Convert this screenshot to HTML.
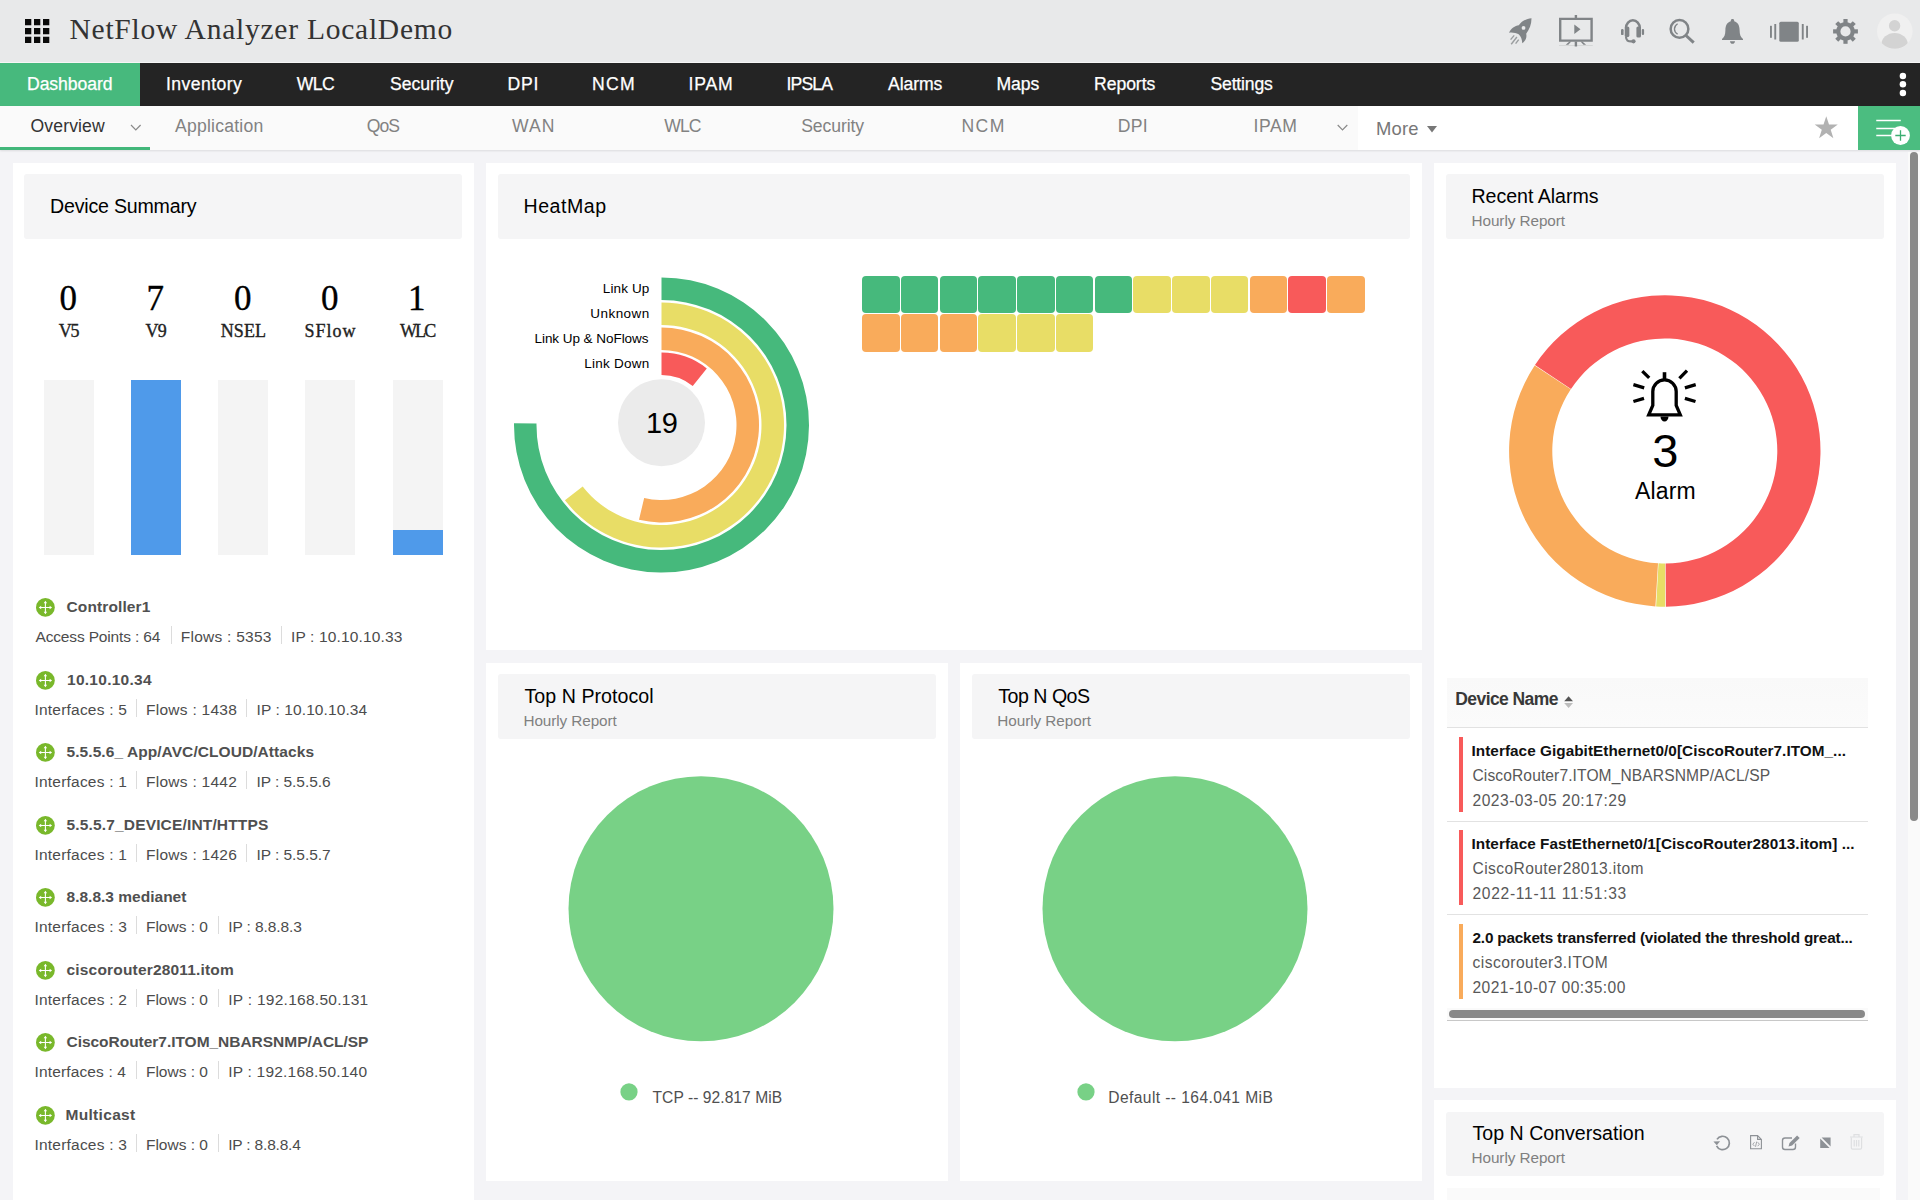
<!DOCTYPE html>
<html lang="en">
<head>
<meta charset="utf-8">
<title>NetFlow Analyzer LocalDemo</title>
<style>
*{box-sizing:border-box;margin:0;padding:0}
html,body{width:1920px;height:1200px;overflow:hidden}
body{position:relative;background:#f4f4f7;font-family:"Liberation Sans",sans-serif}
ul{list-style:none;left:0;top:0}
.ab,.t,.card,.hd,.vs,#top,#mainnav,#subnav,main,section,ul,li i{position:absolute}
.t{white-space:nowrap;line-height:1;display:block}
.ttl{font-family:"Liberation Serif", serif;font-size:29.5px;font-weight:400;color:#333}
.nav{font-family:"Liberation Sans", sans-serif;font-size:17.6px;font-weight:400;color:#fff}
.sub{font-family:"Liberation Sans", sans-serif;font-size:17.6px;font-weight:400;color:#828282}
.suba{font-family:"Liberation Sans", sans-serif;font-size:17.6px;font-weight:400;color:#333}
.more{font-family:"Liberation Sans", sans-serif;font-size:18.4px;font-weight:400;color:#777}
.h{font-family:"Liberation Sans", sans-serif;font-size:19.6px;font-weight:400;color:#000}
.hs{font-family:"Liberation Sans", sans-serif;font-size:15.3px;font-weight:400;color:#808080}
.num{font-family:"Liberation Serif", serif;font-size:35px;font-weight:400;color:#000}
.lab{font-family:"Liberation Serif", serif;font-size:18px;font-weight:400;color:#222}
.dn{font-family:"Liberation Sans", sans-serif;font-size:15.5px;font-weight:700;color:#505050}
.dd{font-family:"Liberation Sans", sans-serif;font-size:15.5px;font-weight:400;color:#4c4c4c}
.rl{font-family:"Liberation Sans", sans-serif;font-size:13.5px;font-weight:400;color:#000}
.c19{font-family:"Liberation Sans", sans-serif;font-size:29px;font-weight:400;color:#000}
.c3{font-family:"Liberation Sans", sans-serif;font-size:47px;font-weight:400;color:#000}
.alm{font-family:"Liberation Sans", sans-serif;font-size:23px;font-weight:400;color:#000}
.th{font-family:"Liberation Sans", sans-serif;font-size:17.5px;font-weight:700;color:#383838}
.at{font-family:"Liberation Sans", sans-serif;font-size:15.3px;font-weight:700;color:#111}
.ad{font-family:"Liberation Sans", sans-serif;font-size:15.6px;font-weight:400;color:#585858}
.lg{font-family:"Liberation Sans", sans-serif;font-size:15.6px;font-weight:400;color:#505050}
#top{left:0;top:0;width:1920px;height:63px;background:#e8e9ea;border-bottom:1px solid #f6f6f6}
#mainnav{left:0;top:63px;width:1920px;height:43px;background:#242424}
#mainnav .act{position:absolute;left:0;top:0;width:140px;height:43px;background:#47b97d}
#subnav{left:0;top:106px;width:1920px;height:44px;background:#fafafa;box-shadow:0 1px 2px rgba(0,0,0,.10)}
#subnav .wh{position:absolute;left:1358px;top:0;width:500px;height:44px;background:#fff}
#subnav .gb{position:absolute;left:1858px;top:0;width:62px;height:44px;background:#4bbd80}
#subnav .ul{position:absolute;left:0;top:41px;width:150px;height:3px;background:#42b77a}
main{left:0;top:0;width:1920px;height:1200px}
.card{background:#fff}
.hd{background:#f5f5f6;border-radius:3px}
.vs{width:1px;height:18px;background:#dcdcdc}
.bar{position:absolute;top:380px;width:50px;height:174.5px;background:#f4f4f4}
.bar b{position:absolute;left:0;bottom:0;width:50px;background:#4f9aea}
#cells i{position:absolute;width:37.5px;height:37.25px;border-radius:4px}
.aline{position:absolute;left:1447px;width:421px;height:1px;background:#e2e2e2}
.abar{position:absolute;left:1459.25px;width:3.75px}
.num,.lab{-webkit-text-stroke:.35px currentColor}
.nav{-webkit-text-stroke:.25px currentColor}
</style>
</head>
<body>
<svg width="0" height="0" style="position:absolute">
<defs>
<g id="rt"><circle cx="10.4" cy="10.45" r="9.4" fill="#79b82b"/><path d="M10.4 5V15.900M5 10.450H15.800" stroke="#fff" stroke-width="1.100" fill="none"/><path d="M10.4 3.700l1.700 2.500h-3.400zM10.4 17.200l1.700-2.500h-3.400zM3.700 10.450l2.500-1.700v3.400zM17.100 10.450l-2.500-1.700v3.400z" fill="#fff"/></g>
</defs>
</svg>

<header id="top">
<svg class="ab" style="left:24px;top:18px" width="27" height="27" viewBox="24 18 27 27" fill="#0a0a0a"><path d="M25 19h6.3v6.3H25zM34 19h6.3v6.3H34zM43 19h6.3v6.3H43zM25 27.9h6.3v6.3H25zM34 27.9h6.3v6.3H34zM43 27.9h6.3v6.3H43zM25 36.8h6.3v6.3H25zM34 36.8h6.3v6.3H34zM43 36.8h6.3v6.3H43z"/></svg>
<h1><span class="t ttl" style="left:69.5px;top:14.75px;letter-spacing:0.76px">NetFlow Analyzer LocalDemo</span></h1>
<svg class="ab" style="left:1500px;top:8px" width="420" height="48" viewBox="1500 8 420 48">
<g fill="#808487" stroke="none">
<!-- rocket -->
<path d="M1531.500 18.200C1526.500 18.600 1521.500 21 1518.800 25.200C1515 25.500 1511 28.500 1509 32.700C1512.500 32.200 1516 33 1518.600 34.300C1521 36.200 1522 39.200 1522.300 43.300C1525.500 41 1527.100 37.500 1526.200 33.800C1529.500 29.500 1531.600 24 1531.500 18.200z"/>
<circle cx="1523.500" cy="27.900" r="1.900" fill="#e8e9ea"/>
<path d="M1514.200 35.400l-3.600 4.200M1516.900 37l-5.700 7.300M1518.700 39.600l-3.100 4" stroke="#808487" stroke-width="1.400" stroke-opacity=".75" fill="none"/>
<!-- presentation -->
<path d="M1560.200 18.900h31.400v21.700h-31.400z" fill="none" stroke="#808487" stroke-width="2.4"/>
<path d="M1574.700 14.900h2.400v3h-2.400zM1574.700 41.500h2.400v5h-2.400zM1574.300 24.600v9.300l6.200-4.650zM1569.500 41.500l-3.800 3.200h2.600l3-3.200zM1582.300 41.500l3.800 3.200h-2.600l-3-3.200z"/>
<path d="M1559 45.500h33.800" stroke="#808487" stroke-opacity=".18" stroke-width="1.200" fill="none"/>
<!-- headset -->
<path d="M1626 28a6.900 7.700 0 0 1 13.800 0" fill="none" stroke="#808487" stroke-width="2.500"/>
<rect x="1624.750" y="26.500" width="4.600" height="10.600" rx="1.600"/><rect x="1636.400" y="26.500" width="4.600" height="11" rx="1.600"/>
<rect x="1621" y="29" width="2.600" height="6.100" rx="1.200"/><rect x="1641.800" y="29" width="2.300" height="6.100" rx="1.100"/>
<path d="M1626 36.500C1626 40.500 1628 41.600 1632 41.400" fill="none" stroke="#808487" stroke-width="2.200"/>
<circle cx="1633.500" cy="41.300" r="2.100"/>
<!-- search -->
<circle cx="1679.500" cy="28.900" r="8.850" fill="none" stroke="#808487" stroke-width="2.500"/>
<path d="M1677.600 23.700C1673.400 26.500 1673.400 31.300 1677.600 34.100" fill="none" stroke="#808487" stroke-width="1.300"/>
<path d="M1686 35.500l7.700 7.200" stroke="#808487" stroke-width="3" fill="none"/>
<!-- bell -->
<path d="M1732.500 19.100c1 0 1.700.7 1.700 1.600v.5c3.600.9 5.400 4.400 5.400 8.800 0 4.700 1.200 7.300 3.400 9.100v.8h-21v-.8c2.200-1.800 3.400-4.400 3.400-9.100 0-4.400 1.800-7.900 5.400-8.800v-.5c0-.9.700-1.600 1.700-1.600zM1730 41.200h5c0 1.500-1.100 2.600-2.500 2.600s-2.500-1.100-2.500-2.600z"/>
<!-- carousel -->
<rect x="1779.300" y="21.700" width="19.500" height="20.100" rx="1.500"/>
<rect x="1774.300" y="24" width="1.900" height="15.500"/><rect x="1770" y="25.800" width="1.900" height="12"/>
<rect x="1801.800" y="24" width="1.900" height="15.500"/><rect x="1806.100" y="25.800" width="1.900" height="12"/>
<!-- gear -->
<g transform="translate(1845.500 31.400)">
<circle r="7.200" fill="none" stroke="#808487" stroke-width="4.200"/>
<g id="gt"><rect x="-2.100" y="-12.400" width="4.200" height="4.200"/><rect x="-2.100" y="8.200" width="4.200" height="4.200"/></g>
<use href="#gt" transform="rotate(45)"/><use href="#gt" transform="rotate(90)"/><use href="#gt" transform="rotate(135)"/>
</g>
</g>
<!-- avatar -->
<clipPath id="avc"><circle cx="1894.800" cy="31.200" r="17.600"/></clipPath>
<circle cx="1894.800" cy="31.200" r="17.800" fill="#f0f0f0"/>
<g clip-path="url(#avc)" fill="#d3d3d3"><circle cx="1894.600" cy="25.700" r="5.700"/><ellipse cx="1894.600" cy="44.500" rx="13.200" ry="11.500"/></g>
</svg>
</header>

<nav id="mainnav"><div class="act"></div>
<div class="ab" style="left:0;top:-63px"><span class="t nav" style="left:27px;top:76px;letter-spacing:-0.07px">Dashboard</span>
<span class="t nav" style="left:166px;top:76px;letter-spacing:0.43px">Inventory</span>
<span class="t nav" style="left:296.75px;top:76px;letter-spacing:-0.58px">WLC</span>
<span class="t nav" style="left:390px;top:76px">Security</span>
<span class="t nav" style="left:507.5px;top:76px;letter-spacing:0.77px">DPI</span>
<span class="t nav" style="left:592px;top:76px;letter-spacing:1.29px">NCM</span>
<span class="t nav" style="left:688.5px;top:76px;letter-spacing:0.81px">IPAM</span>
<span class="t nav" style="left:786.5px;top:76px;letter-spacing:-0.85px">IPSLA</span>
<span class="t nav" style="left:888px;top:76px;letter-spacing:-0.09px">Alarms</span>
<span class="t nav" style="left:996.5px;top:76px;letter-spacing:-0.08px">Maps</span>
<span class="t nav" style="left:1094px;top:76px;letter-spacing:-0.05px">Reports</span>
<span class="t nav" style="left:1210.5px;top:76px;letter-spacing:-0.18px">Settings</span></div>
<svg class="ab" style="left:1896px;top:8px" width="14" height="28" viewBox="1896 71 14 28" fill="#fff"><circle cx="1902.900" cy="75.900" r="3.250"/><circle cx="1902.900" cy="84.300" r="3.250"/><circle cx="1902.900" cy="92.900" r="3.250"/></svg>
</nav>
<nav id="subnav"><div class="wh"></div><div class="gb"></div><div class="ul"></div>
<div class="ab" style="left:0;top:-106px"><span class="t suba" style="left:30.5px;top:118px;letter-spacing:0.13px">Overview</span>
<span class="t sub" style="left:175px;top:118px;letter-spacing:0.22px">Application</span>
<span class="t sub" style="left:366.75px;top:118px;letter-spacing:-0.99px">QoS</span>
<span class="t sub" style="left:512px;top:118px;letter-spacing:1.02px">WAN</span>
<span class="t sub" style="left:664.25px;top:118px;letter-spacing:-0.95px">WLC</span>
<span class="t sub" style="left:801.25px;top:118px;letter-spacing:-0.11px">Security</span>
<span class="t sub" style="left:961.5px;top:118px;letter-spacing:1.41px">NCM</span>
<span class="t sub" style="left:1117.75px;top:118px;letter-spacing:0.27px">DPI</span>
<span class="t sub" style="left:1253.5px;top:118px;letter-spacing:0.56px">IPAM</span>
<span class="t more" style="left:1376px;top:119.5px;letter-spacing:0.19px">More</span></div>
<svg class="ab" style="left:0;top:0" width="1920" height="44" viewBox="0 106 1920 44">
<path d="M131 125l4.800 5 4.800-5M1337.700 125l4.800 5 4.800-5" fill="none" stroke="#8a8a8a" stroke-width="1.200"/>
<path d="M1427 126h10l-5 6.400z" fill="#777"/>
<path d="M1826.250 116.200l2.750 8.400 8.800 0-7.100 5.200 2.700 8.400-7.150-5.200-7.150 5.200 2.700-8.400-7.100-5.200 8.800 0z" fill="#b2b2b2"/>
<path d="M1876.250 120.500h24.500M1876.250 128.500h24.500M1876.250 135.500h16" stroke="#fff" stroke-width="1.400" fill="none"/>
<circle cx="1900.500" cy="135.500" r="9.400" fill="#fff"/>
<path d="M1895.300 135.500h10.400M1900.500 130.300v10.400" stroke="#3cae72" stroke-width="1.300" fill="none"/>
</svg>
</nav>

<main>
<!-- Device Summary -->
<section class="card" style="left:13px;top:163px;width:461px;height:1040px"></section>
<div class="hd" style="left:24px;top:174px;width:438px;height:65px"></div>
<h2><span class="t h" style="left:50px;top:196.75px;letter-spacing:-0.2px">Device Summary</span></h2>
<div id="nums"><span class="t num" style="left:59.5px;top:281px">0</span>
<span class="t num" style="left:146.5px;top:281px">7</span>
<span class="t num" style="left:234px;top:281px">0</span>
<span class="t num" style="left:321px;top:281px">0</span>
<span class="t num" style="left:408px;top:281px">1</span>
<span class="t lab" style="left:58.75px;top:321.75px;letter-spacing:-1.25px">V5</span>
<span class="t lab" style="left:145.5px;top:321.75px;letter-spacing:-0.75px">V9</span>
<span class="t lab" style="left:220.75px;top:321.75px;letter-spacing:0.08px">NSEL</span>
<span class="t lab" style="left:304.5px;top:321.75px;letter-spacing:0.99px">SFlow</span>
<span class="t lab" style="left:400px;top:321.75px;letter-spacing:-1.87px">WLC</span></div>
<div class="bar" style="left:44px"></div>
<div class="bar" style="left:131px"><b style="height:174.5px"></b></div>
<div class="bar" style="left:218px"></div>
<div class="bar" style="left:305px"></div>
<div class="bar" style="left:393px"><b style="height:24.700px"></b></div>
<ul id="devlist">
<li>
<svg class="ab" style="left:35px;top:596.95px" width="21" height="21" viewBox="0 0 21 21"><use href="#rt"/></svg>
<span class="t dn" style="left:66.5px;top:599px;letter-spacing:0.12px">Controller1</span>
<span class="t dd" style="left:35.5px;top:628.75px;letter-spacing:-0.16px">Access Points : 64</span><i class="vs" style="left:170.75px;top:626.25px"></i>
<span class="t dd" style="left:180.75px;top:628.75px;letter-spacing:0.25px">Flows : 5353</span><i class="vs" style="left:280.88px;top:626.25px"></i>
<span class="t dd" style="left:291px;top:628.75px;letter-spacing:0.15px">IP : 10.10.10.33</span>
</li>
<li>
<svg class="ab" style="left:35px;top:669.95px" width="21" height="21" viewBox="0 0 21 21"><use href="#rt"/></svg>
<span class="t dn" style="left:67px;top:672px;letter-spacing:0.27px">10.10.10.34</span>
<span class="t dd" style="left:34.5px;top:701.75px;letter-spacing:0.21px">Interfaces : 5</span><i class="vs" style="left:136.12px;top:699.25px"></i>
<span class="t dd" style="left:146px;top:701.75px;letter-spacing:0.27px">Flows : 1438</span><i class="vs" style="left:246.38px;top:699.25px"></i>
<span class="t dd" style="left:256.5px;top:701.75px;letter-spacing:0.1px">IP : 10.10.10.34</span>
</li>
<li>
<svg class="ab" style="left:35px;top:741.95px" width="21" height="21" viewBox="0 0 21 21"><use href="#rt"/></svg>
<span class="t dn" style="left:66.5px;top:744px;letter-spacing:0.07px">5.5.5.6_ App/AVC/CLOUD/Attacks</span>
<span class="t dd" style="left:34.5px;top:773.75px;letter-spacing:0.21px">Interfaces : 1</span><i class="vs" style="left:136.12px;top:771.25px"></i>
<span class="t dd" style="left:146px;top:773.75px;letter-spacing:0.27px">Flows : 1442</span><i class="vs" style="left:246.38px;top:771.25px"></i>
<span class="t dd" style="left:256.5px;top:773.75px;letter-spacing:-0.05px">IP : 5.5.5.6</span>
</li>
<li>
<svg class="ab" style="left:35px;top:814.95px" width="21" height="21" viewBox="0 0 21 21"><use href="#rt"/></svg>
<span class="t dn" style="left:66.5px;top:817px;letter-spacing:0.16px">5.5.5.7_DEVICE/INT/HTTPS</span>
<span class="t dd" style="left:34.5px;top:846.75px;letter-spacing:0.21px">Interfaces : 1</span><i class="vs" style="left:136.12px;top:844.25px"></i>
<span class="t dd" style="left:146px;top:846.75px;letter-spacing:0.27px">Flows : 1426</span><i class="vs" style="left:246.38px;top:844.25px"></i>
<span class="t dd" style="left:256.5px;top:846.75px;letter-spacing:-0.05px">IP : 5.5.5.7</span>
</li>
<li>
<svg class="ab" style="left:35px;top:886.95px" width="21" height="21" viewBox="0 0 21 21"><use href="#rt"/></svg>
<span class="t dn" style="left:66.5px;top:889px;letter-spacing:0.01px">8.8.8.3 medianet</span>
<span class="t dd" style="left:34.5px;top:918.75px;letter-spacing:0.21px">Interfaces : 3</span><i class="vs" style="left:136.12px;top:916.25px"></i>
<span class="t dd" style="left:146px;top:918.75px;letter-spacing:-0.02px">Flows : 0</span><i class="vs" style="left:218.25px;top:916.25px"></i>
<span class="t dd" style="left:228.25px;top:918.75px;letter-spacing:-0.1px">IP : 8.8.8.3</span>
</li>
<li>
<svg class="ab" style="left:35px;top:959.95px" width="21" height="21" viewBox="0 0 21 21"><use href="#rt"/></svg>
<span class="t dn" style="left:66.5px;top:962px;letter-spacing:0.18px">ciscorouter28011.itom</span>
<span class="t dd" style="left:34.5px;top:991.75px;letter-spacing:0.21px">Interfaces : 2</span><i class="vs" style="left:136.12px;top:989.25px"></i>
<span class="t dd" style="left:146px;top:991.75px;letter-spacing:-0.02px">Flows : 0</span><i class="vs" style="left:218.25px;top:989.25px"></i>
<span class="t dd" style="left:228.25px;top:991.75px;letter-spacing:0.27px">IP : 192.168.50.131</span>
</li>
<li>
<svg class="ab" style="left:35px;top:1031.95px" width="21" height="21" viewBox="0 0 21 21"><use href="#rt"/></svg>
<span class="t dn" style="left:66.5px;top:1034px;letter-spacing:-0.03px">CiscoRouter7.ITOM_NBARSNMP/ACL/SP</span>
<span class="t dd" style="left:34.5px;top:1063.75px;letter-spacing:0.14px">Interfaces : 4</span><i class="vs" style="left:136.12px;top:1061.25px"></i>
<span class="t dd" style="left:146px;top:1063.75px;letter-spacing:-0.02px">Flows : 0</span><i class="vs" style="left:218.25px;top:1061.25px"></i>
<span class="t dd" style="left:228.25px;top:1063.75px;letter-spacing:0.21px">IP : 192.168.50.140</span>
</li>
<li>
<svg class="ab" style="left:35px;top:1104.95px" width="21" height="21" viewBox="0 0 21 21"><use href="#rt"/></svg>
<span class="t dn" style="left:65.5px;top:1107px;letter-spacing:0.31px">Multicast</span>
<span class="t dd" style="left:34.5px;top:1136.75px;letter-spacing:0.21px">Interfaces : 3</span><i class="vs" style="left:136.12px;top:1134.25px"></i>
<span class="t dd" style="left:146px;top:1136.75px;letter-spacing:-0.02px">Flows : 0</span><i class="vs" style="left:218.25px;top:1134.25px"></i>
<span class="t dd" style="left:228.25px;top:1136.75px;letter-spacing:-0.19px">IP : 8.8.8.4</span>
</li>
</ul>

<!-- HeatMap -->
<section class="card" style="left:486px;top:163px;width:936px;height:487px"></section>
<div class="hd" style="left:498px;top:174px;width:912px;height:65px"></div>
<h2><span class="t h" style="left:523.5px;top:196.75px;letter-spacing:0.52px">HeatMap</span></h2>
<svg class="ab" style="left:500px;top:270px" width="320" height="310" viewBox="500 270 320 310">
<path d="M661.5 277.5A147.5 147.5 0 1 1 514.01 423.2L536.51 423.47A125 125 0 1 0 661.5 300Z" fill="#46b97c"/>
<path d="M661.5 302.5A122.5 122.5 0 1 1 564.93 500.37L582.67 486.53A100 100 0 1 0 661.5 325Z" fill="#e8dd66"/>
<path d="M661.5 327.5A97.5 97.5 0 1 1 638.98 519.86L644.17 497.97A75 75 0 1 0 661.5 350Z" fill="#f9ab5b"/>
<path d="M661.5 352.5A72.5 72.5 0 0 1 706.8 368.4L692.74 385.96A50 50 0 0 0 661.5 375Z" fill="#f85a5a"/>
<circle cx="661.500" cy="422.700" r="43.500" fill="#ebebeb"/>
</svg>
<div id="rlabels"><span class="t rl" style="left:602.8px;top:281.5px;letter-spacing:0.12px">Link Up</span>
<span class="t rl" style="left:590.3px;top:306.8px;letter-spacing:0.45px">Unknown</span>
<span class="t rl" style="left:534.5px;top:331.8px;letter-spacing:-0.05px">Link Up &amp; NoFlows</span>
<span class="t rl" style="left:584.3px;top:356.8px;letter-spacing:0.25px">Link Down</span><span class="t c19" style="left:646px;top:409px;letter-spacing:-0.44px">19</span></div>
<div id="cells" class="ab" style="left:0;top:0"><i style="left:862px;top:276px;background:#46b97c"></i><i style="left:900.75px;top:276px;background:#46b97c"></i><i style="left:939.5px;top:276px;background:#46b97c"></i><i style="left:978.25px;top:276px;background:#46b97c"></i><i style="left:1017px;top:276px;background:#46b97c"></i><i style="left:1055.75px;top:276px;background:#46b97c"></i><i style="left:1094.5px;top:276px;background:#46b97c"></i><i style="left:1133.25px;top:276px;background:#e8dd66"></i><i style="left:1172px;top:276px;background:#e8dd66"></i><i style="left:1210.75px;top:276px;background:#e8dd66"></i><i style="left:1249.5px;top:276px;background:#f9ab5b"></i><i style="left:1288.25px;top:276px;background:#f85a5a"></i><i style="left:1327px;top:276px;background:#f9ab5b"></i><i style="left:862px;top:314.35px;background:#f9ab5b"></i><i style="left:900.75px;top:314.35px;background:#f9ab5b"></i><i style="left:939.5px;top:314.35px;background:#f9ab5b"></i><i style="left:978.25px;top:314.35px;background:#e8dd66"></i><i style="left:1017px;top:314.35px;background:#e8dd66"></i><i style="left:1055.75px;top:314.35px;background:#e8dd66"></i></div>

<!-- Top N Protocol -->
<section class="card" style="left:486px;top:663px;width:462px;height:518px"></section>
<div class="hd" style="left:498px;top:674px;width:438px;height:65px"></div>
<h2><span class="t h" style="left:524.5px;top:686.5px;letter-spacing:0.05px">Top N Protocol</span><span class="t hs" style="left:523.5px;top:713.25px;letter-spacing:-0.09px">Hourly Report</span></h2>
<svg class="ab" style="left:560px;top:770px" width="290" height="340" viewBox="560 770 290 340"><circle cx="701" cy="908.750" r="132.500" fill="#78d186"/><circle cx="629" cy="1091.900" r="8.600" fill="#78d186"/></svg>
<span class="t lg" style="left:652.5px;top:1090px;letter-spacing:0.05px">TCP -- 92.817 MiB</span>

<!-- Top N QoS -->
<section class="card" style="left:960px;top:663px;width:462px;height:518px"></section>
<div class="hd" style="left:972px;top:674px;width:438px;height:65px"></div>
<h2><span class="t h" style="left:998.25px;top:686.5px;letter-spacing:-0.5px">Top N QoS</span><span class="t hs" style="left:997.25px;top:713.25px;letter-spacing:-0.05px">Hourly Report</span></h2>
<svg class="ab" style="left:1030px;top:770px" width="290" height="340" viewBox="1030 770 290 340"><circle cx="1175" cy="908.750" r="132.500" fill="#78d186"/><circle cx="1086" cy="1091.900" r="8.600" fill="#78d186"/></svg>
<span class="t lg" style="left:1108.25px;top:1090px;letter-spacing:0.41px">Default -- 164.041 MiB</span>

<!-- Recent Alarms -->
<section class="card" style="left:1434px;top:163px;width:462px;height:925px"></section>
<div class="hd" style="left:1446px;top:174px;width:438px;height:65px"></div>
<h2><span class="t h" style="left:1471.5px;top:187px;letter-spacing:-0.03px">Recent Alarms</span><span class="t hs" style="left:1471.5px;top:213.25px;letter-spacing:-0.07px">Hourly Report</span></h2>
<svg class="ab" style="left:1500px;top:290px" width="330" height="322" viewBox="1500 290 330 322">
<path d="M1534.96 365.06A155.7 155.7 0 1 1 1665.89 606.7L1665.59 563.5A112.5 112.5 0 1 0 1570.99 388.91Z" fill="#f85a5a"/>
<path d="M1665.21 606.7A155.7 155.7 0 0 1 1656.11 606.46L1658.52 563.32A112.5 112.5 0 0 0 1665.09 563.5Z" fill="#e8dd66"/>
<path d="M1655.43 606.42A155.7 155.7 0 0 1 1534.66 365.52L1570.77 389.23A112.5 112.5 0 0 0 1658.03 563.3Z" fill="#f9ab5b"/>
<g fill="none" stroke="#000" stroke-width="3.300">
<path d="M1648.700 414.900h31.600l-4.100-9.600v-13.700a11.700 11.700 0 0 0-23.400 0v13.700z" stroke-linejoin="miter" stroke-miterlimit="10"/>
<path d="M1664.500 372.200v7.500" stroke-width="3.600"/>
<path d="M1642.300 371.100l6.900 6.800M1687 370.600l-7.600 7.700M1633.400 384.600l10.800 3.200M1695.700 384.600l-10.800 3.200M1633.400 401.500l10.600-3.200M1695.500 401.500l-10.600-3.200" stroke-width="3.300"/>
</g>
<path d="M1660.500 416.400h8a4 5.200 0 0 1-8 0z" fill="#000"/>
</svg>
<span class="t c3" style="left:1652.35px;top:426.6px">3</span><span class="t alm" style="left:1634.9px;top:479.7px;letter-spacing:0.2px">Alarm</span>
<div class="ab" style="left:1447px;top:678px;width:421px;height:49.500px;background:linear-gradient(#f9f9f9,#fbfbfb)"></div>
<span class="t th" style="left:1455.25px;top:691px;letter-spacing:-0.57px">Device Name</span>
<svg class="ab" style="left:1563px;top:694px" width="12" height="16" viewBox="1563 694 12 16"><path d="M1564.200 701.300h8.800l-4.400-5.100z" fill="#555"/><path d="M1564.200 703h8.800l-4.400 5.100z" fill="#bdbdbd"/></svg>
<i class="aline" style="top:727px"></i><i class="abar" style="top:737px;height:74.75px;background:#f85a5a"></i>
<span class="t at" style="left:1471.5px;top:742.75px;letter-spacing:0.05px">Interface GigabitEthernet0/0[CiscoRouter7.ITOM_...</span><span class="t ad" style="left:1472.5px;top:767.75px;letter-spacing:0.1px">CiscoRouter7.ITOM_NBARSNMP/ACL/SP</span><span class="t ad" style="left:1472.5px;top:792.75px;letter-spacing:0.49px">2023-03-05 20:17:29</span>
<i class="aline" style="top:821px"></i><i class="abar" style="top:830px;height:74.5px;background:#f85a5a"></i>
<span class="t at" style="left:1471.5px;top:835.75px;letter-spacing:0.06px">Interface FastEthernet0/1[CiscoRouter28013.itom] ...</span><span class="t ad" style="left:1472.5px;top:860.75px;letter-spacing:0.4px">CiscoRouter28013.itom</span><span class="t ad" style="left:1472.5px;top:885.75px;letter-spacing:0.69px">2022-11-11 11:51:33</span>
<i class="aline" style="top:914px"></i><i class="abar" style="top:924.25px;height:74.5px;background:#f9ab5b"></i>
<span class="t at" style="left:1472.5px;top:930px;letter-spacing:-0.18px">2.0 packets transferred (violated the threshold great...</span><span class="t ad" style="left:1472.5px;top:955px;letter-spacing:0.45px">ciscorouter3.ITOM</span><span class="t ad" style="left:1472.5px;top:980px;letter-spacing:0.45px">2021-10-07 00:35:00</span>
<div class="ab" style="left:1447px;top:1008px;width:421px;height:12.500px;background:#fafafa;border-bottom:1px solid #c8c8c8"></div>
<div class="ab" style="left:1449.250px;top:1010px;width:415.750px;height:7.500px;border-radius:4px;background:#888"></div>

<!-- Top N Conversation -->
<section class="card" style="left:1434px;top:1100px;width:462px;height:110px"></section>
<div class="hd" style="left:1446px;top:1112px;width:438px;height:64px"></div>
<h2><span class="t h" style="left:1472.5px;top:1123.5px;letter-spacing:0px">Top N Conversation</span><span class="t hs" style="left:1471.5px;top:1150.25px;letter-spacing:-0.07px">Hourly Report</span></h2>
<div class="ab" style="left:1447px;top:1188px;width:432.500px;height:20px;background:#fafafa"></div>
<svg class="ab" style="left:1710px;top:1130px" width="160" height="24" viewBox="1710 1130 160 24" fill="none" stroke="#8d9196" stroke-width="1.400">
<path d="M1717 1139.400a6.700 6.700 0 1 1-.4 6.400" stroke-width="1.700"/><path d="M1713.400 1141.400l3.400 3.800 3.300-4z" fill="#8d9196" stroke="none"/>
<path d="M1750.600 1135.600h7l3.800 3.800v9.400h-10.800zM1757.600 1135.600v3.800h3.800" stroke-width="1.100"/>
<path d="M1754.500 1142.200l-1.700 2 1.700 2M1757.700 1142.200l1.700 2-1.700 2M1756.700 1141.600l-1.200 5.200" stroke-width=".8"/>
<path d="M1792 1138h-7a2.500 2.500 0 0 0-2.500 2.500v6.500a2.500 2.500 0 0 0 2.500 2.500h8a2.500 2.500 0 0 0 2.500-2.500v-3.500"/>
<path d="M1788.500 1146.500l1-3.500 7.600-7.600 2.600 2.600-7.600 7.600z" fill="#8d9196" stroke="none"/>
<path d="M1820.200 1138.600v9.400h9.400zM1821.600 1137.600h9v9z" fill="#8d9196" stroke="none"/>
<g stroke="#dedfe1" stroke-width="1.200"><path d="M1850 1137h12.800M1854 1137v-2.300h5v2.300M1851.300 1137.800v10a1.400 1.400 0 0 0 1.400 1.400h7.500a1.400 1.400 0 0 0 1.400-1.400v-10M1854.200 1140v6.500M1856.500 1140v6.500M1858.800 1140v6.500"/></g>
</svg>
</main>
<div class="ab" style="left:1908px;top:152px;width:12px;height:1048px;background:#fafafa"></div>
<div class="ab" style="left:1910px;top:152px;width:8px;height:669px;border-radius:4px;background:#898989"></div>
</body>
</html>
